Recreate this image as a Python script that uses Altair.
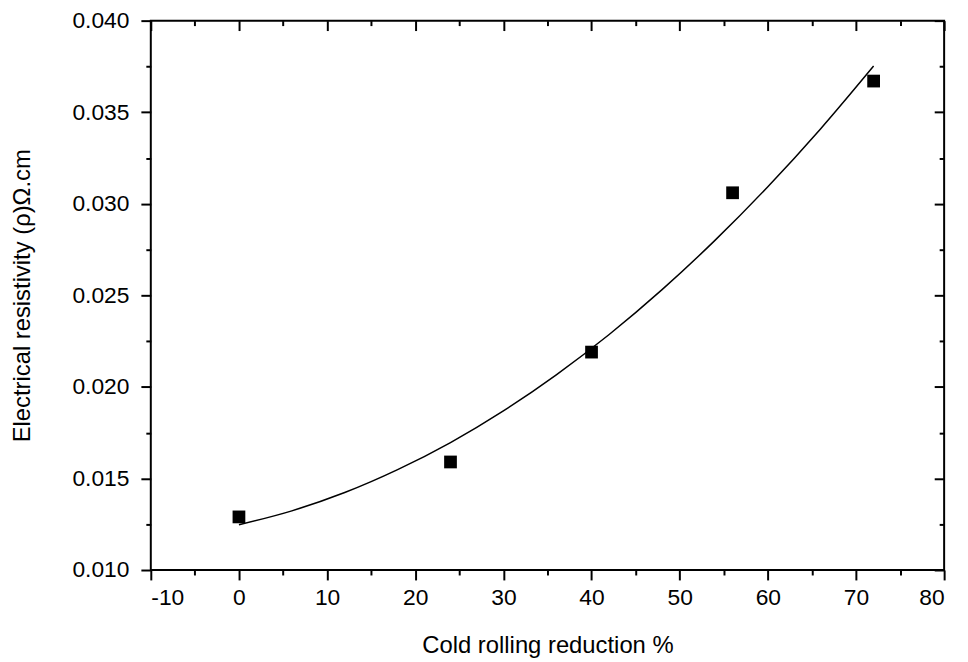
import altair as alt
import pandas as pd

# measured points
reduction = [0, 24, 40, 56, 72]
resistivity = [0.0129, 0.0159, 0.0219, 0.0306, 0.0367]

# fitted curve
fit_x = [0, 6, 12, 18, 24, 30, 36, 42, 48, 54, 60, 66, 72]
fit_y = [0.01247, 0.01323, 0.01423, 0.01548, 0.01696, 0.01869, 0.02066,
         0.02286, 0.02531, 0.02800, 0.03093, 0.03410, 0.03752]

# tick values (major every 10 / 0.005, minor halfway)
x_ticks = [-10, -5, 0, 5, 10, 15, 20, 25, 30, 35, 40, 45, 50, 55, 60, 65, 70, 75, 80]
y_ticks = [0.010, 0.0125, 0.015, 0.0175, 0.020, 0.0225, 0.025, 0.0275,
           0.030, 0.0325, 0.035, 0.0375, 0.040]

pts = pd.DataFrame({"x": reduction, "y": resistivity})
fit = pd.DataFrame({"x": fit_x, "y": fit_y})

W, H = 800, 554
FONT = "Liberation Sans"
LFS = 23
TFS = 24

xtest = "datum.value % 10 === 0"
ytest = "round(datum.value * 10000) % 50 === 0"

xscale = alt.Scale(domain=[-10, 80], nice=False, zero=False)
yscale = alt.Scale(domain=[0.010, 0.040], nice=False, zero=False)

xaxis_main = alt.Axis(values=x_ticks, domain=False, grid=False,
                      tickSize={"condition": {"test": xtest, "value": 10}, "value": 5},
                      tickColor="black", tickWidth=2,
                      labelExpr=f"{xtest} ? '' + datum.value : ''",
                      labelFont=FONT, labelFontSize=LFS, labelColor="black",
                      labelPadding=7,
                      title="Cold rolling reduction %", titleFont=FONT,
                      titleFontSize=TFS, titleFontWeight="normal", titleColor="black",
                      titlePadding=24)

yaxis_main = alt.Axis(values=y_ticks, domain=False, grid=False,
                      tickSize={"condition": {"test": ytest, "value": 10}, "value": 5},
                      tickColor="black", tickWidth=2,
                      labelExpr=f"{ytest} ? format(datum.value, '.3f') : ''",
                      labelFont=FONT, labelFontSize=LFS, labelColor="black",
                      labelPadding=12,
                      title="Electrical resistivity (\u03c1)\u03a9.cm", titleFont=FONT,
                      titleFontSize=TFS, titleFontWeight="normal", titleColor="black",
                      titlePadding=38)

xaxis_top = alt.Axis(orient="bottom", offset=-H, values=x_ticks, domain=False,
                     grid=False, labels=False, title=None,
                     tickSize={"condition": {"test": xtest, "value": 10}, "value": 5},
                     tickColor="black", tickWidth=2)
yaxis_right = alt.Axis(orient="left", offset=-W, values=y_ticks, domain=False,
                       grid=False, labels=False, title=None,
                       tickSize={"condition": {"test": ytest, "value": 10}, "value": 5},
                       tickColor="black", tickWidth=2)

line = alt.Chart(fit).mark_line(color="black", strokeWidth=1.5,
                                interpolate="monotone").encode(
    x=alt.X("x:Q", scale=xscale, axis=xaxis_main),
    y=alt.Y("y:Q", scale=yscale, axis=yaxis_main),
)

points = alt.Chart(pts).mark_square(color="black", size=165, opacity=1).encode(
    x=alt.X("x:Q", scale=xscale, axis=xaxis_top),
    y=alt.Y("y:Q", scale=yscale, axis=yaxis_right),
)

chart = alt.layer(line, points).resolve_axis(
    x="independent", y="independent"
).properties(
    width=W, height=H,
    autosize=alt.AutoSizeParams(type="none"),
    padding={"left": 144, "top": 10, "right": 16, "bottom": 88},
    background="white",
).configure_view(stroke="black", strokeWidth=2)

chart.save("out.html", embed_options={"renderer": "svg", "actions": False})
